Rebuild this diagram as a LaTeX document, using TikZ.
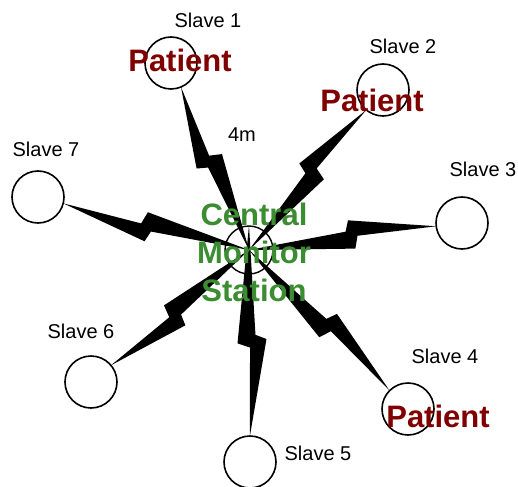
\documentclass[tikz,border=0pt]{standalone}
\usepackage{fontspec}
\setmainfont{Liberation Sans}
\usepackage{tikz}
\usetikzlibrary{calc}
\definecolor{patientred}{RGB}{128,0,0}
\definecolor{stationgreen}{RGB}{60,140,50}

% lightning link from a slave circle to the monitor
\newcommand\zap[2]{%
  \path ($(#1)!26pt!(#2)$) coordinate (zapa);
  \fill (zapa)
    -- ($(zapa)!0.42!(#2)!0.5pt!-90:(#2)$)
    -- ($(zapa)!0.44!(#2)!12pt!90:(#2)$)
    -- ($(#2)$)
    -- ($(zapa)!0.48!(#2)!6pt!-90:(#2)$)
    -- ($(zapa)!0.46!(#2)!17pt!-90:(#2)$)
    -- cycle;
}

\begin{document}
\begin{tikzpicture}[x=1pt, y=-1pt,
  station/.style={circle, draw, line width=1.6pt, minimum size=52pt, inner sep=0pt},
  hub/.style={circle, draw, line width=1.4pt, minimum size=48pt, inner sep=0pt},
  tag/.style={inner sep=0pt, font=\fontsize{20}{24}\selectfont},
  patient/.style={inner sep=0pt, anchor=base, text=patientred,
                  font=\fontsize{31}{36}\selectfont\bfseries}]
\useasboundingbox (0,0) rectangle (518,486);

\node[station] (s1) at (171,63) {};
\node[station] (s2) at (383,90) {};
\node[station] (s3) at (462,223) {};
\node[station] (s4) at (408,409) {};
\node[station] (s5) at (250,462) {};
\node[station] (s6) at (91,382) {};
\node[station] (s7) at (38,197) {};
\node[hub] (cms) at (249,250) {};

\foreach \s in {s1,s2,s3,s4,s6,s7} {\zap{\s}{cms}}
\zap{s5}{cms.north}

\node[tag] (l1) at (208,20) {Slave 1};
\node[tag] (l2) at (403,46) {Slave 2};
\node[tag] (l3) at (483,169) {Slave 3};
\node[tag] (l4) at (445,356) {Slave 4};
\node[tag] (l5) at (318,453) {Slave 5};
\node[tag] (l6) at (81,331) {Slave 6};
\node[tag] (l7) at (46,149) {Slave 7};
\node[tag] (dist) at (242,135) {4m};

\node[patient] (p1) at (180,72) {Patient};
\node[patient] (p2) at (372,112) {Patient};
\node[patient] (p3) at (438,427) {Patient};

\node[inner sep=0pt, anchor=base, align=center, text=stationgreen,
      font=\fontsize{31}{38}\selectfont\bfseries] (cmstext) at (254,301)
  {Central\\Monitor\\Station};
\end{tikzpicture}
\end{document}
